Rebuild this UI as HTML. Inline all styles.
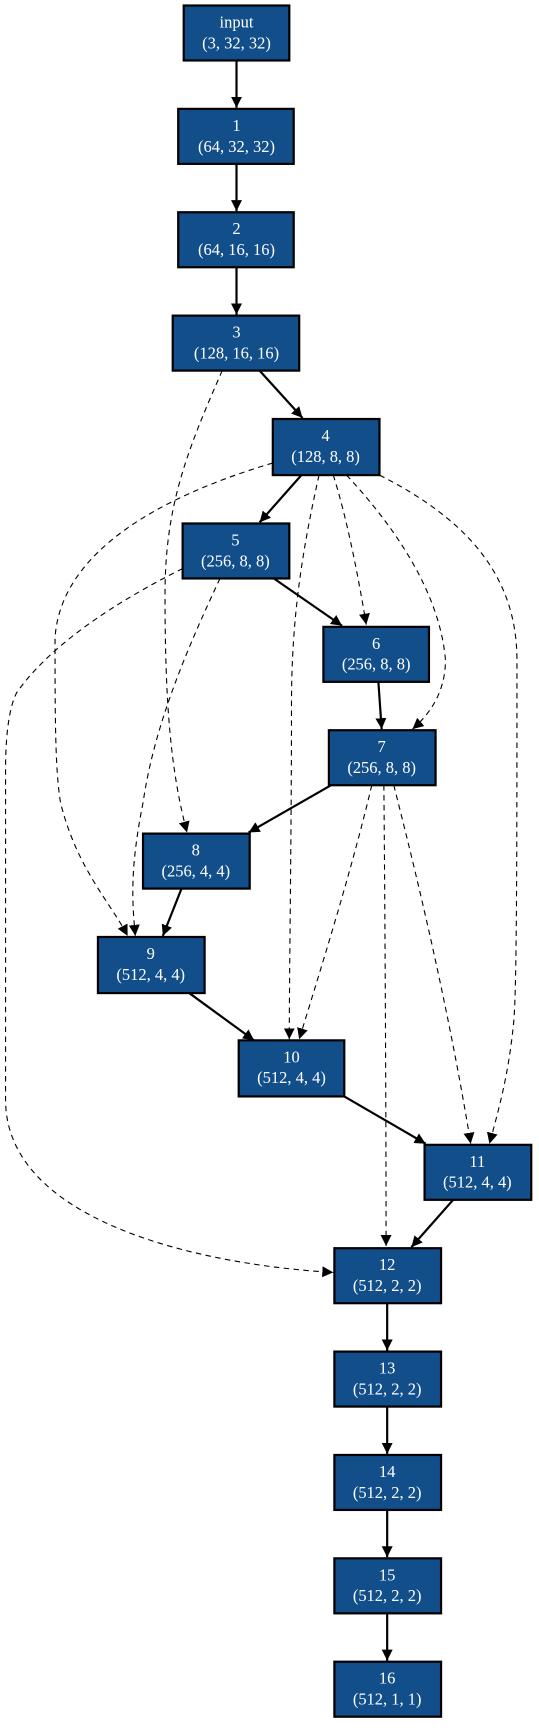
<!DOCTYPE html>
<html><head><meta charset="utf-8"><style>
html,body{margin:0;padding:0;background:#fff;width:539px;height:1731px;overflow:hidden}
svg{display:block}
text{font-family:"Liberation Serif",serif;font-size:15px;fill:#fff;text-anchor:middle}
.n{fill:#114e8a;stroke:#000;stroke-width:2}
.s{fill:none;stroke:#000;stroke-width:2}
.d{fill:none;stroke:#000;stroke-width:1;stroke-dasharray:5,4}
</style></head><body>
<svg width="539" height="1731" viewBox="0 0 490 1574">
<defs>
<marker id="a" viewBox="0 0 10 10" refX="10" refY="5" markerWidth="5" markerHeight="5" orient="auto" markerUnits="strokeWidth"><path d="M0,0L10,5L0,10z" fill="#000"/></marker>
<marker id="b" viewBox="0 0 10 10" refX="10" refY="5" markerWidth="10" markerHeight="10" orient="auto" markerUnits="strokeWidth"><path d="M0,0L10,5L0,10z" fill="#000"/></marker>
</defs>
<g class="s" marker-end="url(#a)">
<path d="M215,55L215,98"/>
<path d="M215,149L215,192"/>
<path d="M215,243L215,286"/>
<path d="M236,337L275,380"/>
<path d="M274,432L236,475"/>
<path d="M249,526L311,569"/>
<path d="M344,620L347,663"/>
<path d="M301,714L226,757"/>
<path d="M165,808L148,851"/>
<path d="M172,903L231,946"/>
<path d="M313,997L387,1040"/>
<path d="M412,1091L374,1134"/>
<path d="M352,1185L352,1228"/>
<path d="M352,1279L352,1322"/>
<path d="M352,1373L352,1416"/>
<path d="M352,1467L352,1510"/>
</g>
<g class="d" marker-end="url(#b)">
<path d="M202,337C170,410 150,460 150,540C150,640 155,700 170,757"/>
<path d="M248,421C150,450 55,500 50,580C50,650 50,700 55,730C70,790 100,820 116,851"/>
<path d="M290,432C275,500 265,560 265,640C265,760 263,880 263,945"/>
<path d="M303,432C315,470 325,520 333,568"/>
<path d="M315,432C360,480 400,540 405,600C405,630 390,650 375,663"/>
<path d="M345,432C420,470 470,520 470,600C470,760 470,900 467,930C462,980 453,1010 445,1040"/>
<path d="M200,526C170,590 140,660 130,730C118,790 120,820 123,851"/>
<path d="M166,517C120,540 50,580 15,630C5,650 5,690 5,700C5,800 5,900 5,1000C5,1110 180,1150 303,1157"/>
<path d="M338,714C320,790 295,870 272,945"/>
<path d="M349,714C350,830 351,1000 351,1133"/>
<path d="M358,714C385,820 410,930 428,1040"/>
</g>
<g>
<rect class="n" x="167" y="5" width="96" height="50"/><text x="215" y="25">input</text><text x="215" y="44">(3, 32, 32)</text>
<rect class="n" x="162" y="99" width="105" height="50"/><text x="215" y="119">1</text><text x="215" y="138">(64, 32, 32)</text>
<rect class="n" x="162" y="193" width="105" height="50"/><text x="215" y="213">2</text><text x="215" y="232">(64, 16, 16)</text>
<rect class="n" x="157" y="287" width="115" height="50"/><text x="215" y="307">3</text><text x="215" y="326">(128, 16, 16)</text>
<rect class="n" x="248" y="381" width="97" height="51"/><text x="296" y="401">4</text><text x="296" y="420">(128, 8, 8)</text>
<rect class="n" x="166" y="476" width="97" height="50"/><text x="214" y="496">5</text><text x="214" y="515">(256, 8, 8)</text>
<rect class="n" x="294" y="570" width="96" height="50"/><text x="342" y="590">6</text><text x="342" y="609">(256, 8, 8)</text>
<rect class="n" x="299" y="664" width="97" height="50"/><text x="347" y="684">7</text><text x="347" y="703">(256, 8, 8)</text>
<rect class="n" x="130" y="758" width="97" height="50"/><text x="178" y="778">8</text><text x="178" y="797">(256, 4, 4)</text>
<rect class="n" x="89" y="852" width="97" height="51"/><text x="137" y="872">9</text><text x="137" y="891">(512, 4, 4)</text>
<rect class="n" x="217" y="946" width="96" height="51"/><text x="265" y="966">10</text><text x="265" y="985">(512, 4, 4)</text>
<rect class="n" x="386" y="1041" width="97" height="50"/><text x="434" y="1061">11</text><text x="434" y="1080">(512, 4, 4)</text>
<rect class="n" x="304" y="1135" width="97" height="50"/><text x="352" y="1155">12</text><text x="352" y="1174">(512, 2, 2)</text>
<rect class="n" x="304" y="1229" width="97" height="50"/><text x="352" y="1249">13</text><text x="352" y="1268">(512, 2, 2)</text>
<rect class="n" x="304" y="1323" width="97" height="50"/><text x="352" y="1343">14</text><text x="352" y="1362">(512, 2, 2)</text>
<rect class="n" x="304" y="1417" width="97" height="50"/><text x="352" y="1437">15</text><text x="352" y="1456">(512, 2, 2)</text>
<rect class="n" x="304" y="1511" width="97" height="50"/><text x="352" y="1531">16</text><text x="352" y="1550">(512, 1, 1)</text>
</g>
</svg>
</body></html>
